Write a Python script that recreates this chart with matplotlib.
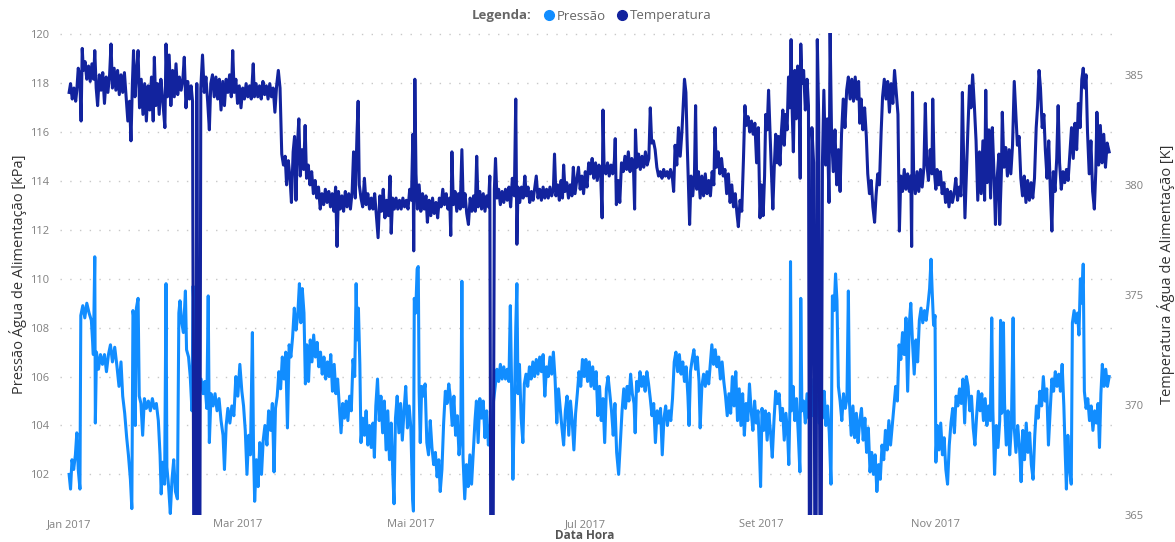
import numpy as np
import pandas as pd
import matplotlib
matplotlib.use("Agg")
import matplotlib.pyplot as plt
from matplotlib.lines import Line2D

# (dia desde 1 jan 2017, pressão em kPa)
pressure_readings = [
    (0, 102.0), (0.5, 101.4), (1, 102.6), (1.6, 102.2), (2.2, 102.8), (2.7, 103.7), (3.2, 102.2), (3.8, 101.4),
    (4.1, 108.5), (4.8, 108.9), (5.5, 108.4), (6.2, 109.0), (7, 108.6), (7.8, 108.3), (8.5, 106.9), (9.0, 110.9),
    (9.2, 104.1), (9.6, 107.0), (10.3, 106.3), (11, 106.9), (11.7, 106.5), (12.4, 106.9), (13.1, 106.2), (13.8, 106.9),
    (14.5, 107.3), (15.2, 106.6), (16, 107.2), (16.8, 106.4), (17.5, 105.6), (18.2, 106.6), (18.8, 105.2), (19.5, 104.5),
    (20.2, 103.5), (20.8, 102.8), (21.5, 101.8), (22.0, 100.6), (22.4, 108.7), (22.9, 108.2), (23.2, 104.0), (23.6, 108.8),
    (24.2, 109.2), (24.6, 105.2), (25.2, 104.9), (25.8, 103.6), (26.4, 105.1), (27.1, 104.7), (27.8, 105.0), (28.5, 104.6),
    (29.2, 105.1), (29.9, 104.7), (30.6, 104.9), (31.3, 104.2), (31.9, 102.8), (32.3, 101.2), (32.8, 102.5), (33.5, 101.6),
    (34.0, 109.8), (34.3, 102.3), (34.9, 101.5), (35.5, 100.4), (36.1, 101.8), (36.7, 102.6), (37.3, 101.3), (38.0, 101.0),
    (38.5, 108.6), (38.9, 109.1), (39.5, 108.2), (40.1, 107.8), (40.8, 109.5), (41.2, 107.1), (41.9, 106.8), (42.5, 106.0),
    (43.1, 104.6), (43.5, 109.7), (44.2, 107.5), (44.9, 106.2), (45.6, 105.5), (46.3, 105.9), (47.0, 105.3), (47.6, 105.8),
    (48.3, 104.7), (48.8, 109.3), (49.2, 103.3), (49.8, 105.3), (50.5, 104.8), (51.2, 105.3), (51.9, 104.6), (52.6, 105.1),
    (53.3, 104.2), (54.0, 103.6), (54.5, 102.2), (55.1, 104.0), (55.7, 104.7), (56.4, 104.1), (57.1, 104.8), (57.8, 104.4),
    (58.5, 106.0), (59.2, 105.2), (59.9, 106.5), (60.6, 105.4), (61.2, 104.8), (61.8, 103.8), (62.4, 102.0), (63.0, 103.6),
    (63.6, 102.8), (64.3, 107.8), (64.7, 103.0), (65.1, 100.9), (65.7, 102.6), (66.3, 101.5), (66.9, 103.3), (67.5, 102.0),
    (68.1, 103.4), (68.7, 104.0), (69.4, 103.2), (70.0, 104.6), (70.7, 103.8), (71.3, 104.9), (71.9, 102.1), (72.4, 104.7),
    (73.0, 105.2), (73.6, 106.2), (74.2, 105.5), (74.8, 106.8), (75.4, 105.9), (76.0, 107.0), (76.6, 103.9), (77.2, 107.3),
    (77.8, 106.8), (78.4, 107.6), (79.0, 108.8), (79.6, 107.9), (80.2, 108.5), (80.8, 109.8), (81.3, 108.2), (81.8, 109.6),
    (82.4, 108.6), (82.9, 105.7), (83.4, 107.3), (84.0, 105.8), (84.6, 107.5), (85.2, 106.6), (85.8, 107.7), (86.4, 106.8),
    (87.0, 107.4), (87.6, 106.4), (88.2, 107.0), (88.8, 106.1), (89.4, 106.8), (90.0, 105.9), (90.6, 106.6), (91.2, 106.0),
    (91.8, 106.9), (92.4, 105.4), (93.0, 106.5), (93.6, 105.3), (94.2, 105.9), (94.8, 104.8), (95.4, 103.7), (96.0, 104.9),
    (96.6, 104.3), (97.2, 105.0), (97.8, 104.2), (98.4, 105.2), (99.0, 104.6), (99.6, 106.7), (100.2, 106.0), (100.7, 109.8),
    (101.1, 107.5), (101.5, 108.8), (102.0, 106.5), (102.4, 103.3), (103.0, 104.3), (103.6, 103.6), (104.2, 104.6), (104.8, 103.2),
    (105.4, 104.0), (106.0, 103.1), (106.6, 104.1), (107.1, 102.7), (107.6, 104.8), (108.2, 105.9), (108.8, 104.2), (109.4, 105.2),
    (110.0, 103.7), (110.6, 105.0), (111.2, 103.0), (111.8, 104.6), (112.4, 102.6), (113.0, 104.1), (113.6, 101.9), (114.0, 100.8),
    (114.5, 104.3), (115.1, 105.2), (115.7, 103.7), (116.3, 104.9), (116.9, 103.4), (117.5, 104.6), (118.1, 105.6), (118.7, 103.9),
    (119.3, 104.8), (119.9, 103.9), (120.5, 101.0), (120.8, 100.5), (121.1, 109.2), (121.6, 108.6), (122.1, 110.4), (122.5, 110.5),
    (122.8, 105.4), (123.2, 103.3), (123.7, 105.6), (124.3, 105.2), (124.9, 105.7), (125.5, 103.3), (126.1, 102.8), (126.7, 104.2),
    (127.3, 103.1), (127.9, 102.4), (128.5, 102.9), (129.1, 101.9), (129.7, 102.6), (130.2, 101.3), (130.8, 102.2), (131.4, 104.1),
    (132.0, 105.4), (132.6, 104.9), (133.2, 105.7), (133.8, 105.1), (134.4, 104.0), (135.0, 105.2), (135.6, 103.6), (136.2, 104.4),
    (136.8, 102.8), (137.4, 103.6), (137.8, 109.9), (138.2, 102.7), (138.8, 101.0), (139.4, 102.4), (140.0, 101.5), (140.6, 102.8),
    (141.2, 101.6), (141.8, 102.9), (142.4, 104.2), (142.9, 105.0), (143.5, 103.3), (144.1, 105.1), (144.7, 104.3), (145.3, 105.0),
    (145.9, 103.5), (146.5, 104.6), (147.1, 103.2), (147.7, 104.0), (148.3, 103.5), (148.9, 105.0), (149.5, 105.6), (150.1, 106.3),
    (150.7, 105.8), (151.3, 106.5), (151.9, 105.9), (152.5, 106.4), (153.1, 105.9), (153.7, 106.3), (154.3, 105.8), (154.8, 108.9),
    (155.2, 106.0), (155.7, 101.8), (156.2, 104.6), (156.7, 108.0), (157.1, 109.8), (157.5, 105.3), (158.0, 106.5), (158.6, 104.3),
    (159.2, 103.3), (159.7, 105.7), (160.3, 106.1), (160.9, 105.6), (161.5, 106.4), (162.1, 105.9), (162.7, 106.6), (163.3, 106.0),
    (163.9, 106.7), (164.5, 106.1), (165.1, 106.8), (165.7, 106.2), (166.3, 106.9), (166.9, 105.2), (167.5, 106.4), (168.1, 106.0),
    (168.7, 106.8), (169.3, 106.1), (169.9, 107.0), (170.5, 105.9), (171.1, 104.1), (171.7, 105.5), (172.3, 104.7), (172.9, 103.9),
    (173.5, 103.2), (174.1, 104.6), (174.7, 105.2), (175.3, 103.6), (175.9, 105.0), (176.5, 104.2), (177.1, 103.0), (177.7, 104.5),
    (178.3, 105.3), (178.9, 106.2), (179.5, 105.6), (180.1, 106.7), (180.7, 106.0), (181.3, 106.7), (181.9, 105.8), (182.5, 106.6),
    (183.1, 105.6), (183.7, 106.4), (184.3, 105.5), (184.9, 106.2), (185.5, 104.4), (186.1, 105.6), (186.7, 104.2), (187.3, 105.1),
    (187.9, 103.3), (188.5, 105.5), (189.1, 106.0), (189.7, 105.3), (190.3, 104.6), (190.9, 103.6), (191.5, 104.9), (192.1, 102.9),
    (192.8, 102.0), (193.4, 103.3), (194.0, 104.6), (194.6, 105.5), (195.2, 104.7), (195.8, 105.6), (196.4, 105.0), (197.0, 106.1),
    (197.6, 105.3), (198.2, 104.9), (198.6, 103.7), (199.1, 105.8), (199.7, 105.4), (200.3, 106.2), (200.9, 105.6), (201.5, 106.0),
    (202.1, 105.4), (202.7, 106.2), (203.3, 105.7), (203.9, 105.1), (204.5, 104.4), (205.1, 104.9), (205.7, 103.3), (206.3, 104.6),
    (206.9, 104.1), (207.5, 104.7), (208.1, 102.8), (208.7, 104.3), (209.3, 104.8), (209.9, 104.0), (210.5, 104.6), (211.1, 104.2),
    (211.7, 105.1), (212.3, 106.6), (212.9, 107.0), (213.5, 106.2), (214.1, 106.9), (214.7, 106.1), (215.3, 106.6), (215.9, 105.8),
    (216.5, 106.4), (217.1, 105.2), (217.5, 104.0), (218.0, 106.2), (218.6, 106.7), (219.2, 107.1), (219.8, 106.3), (220.4, 106.8),
    (221.0, 105.8), (221.4, 103.9), (222.0, 105.6), (222.6, 106.1), (223.2, 105.6), (223.8, 106.2), (224.4, 105.7), (225.0, 106.6),
    (225.5, 107.3), (226.1, 106.5), (226.7, 107.1), (227.3, 106.4), (227.9, 106.8), (228.5, 105.9), (229.1, 106.6), (229.7, 105.8),
    (230.3, 105.2), (230.9, 104.4), (231.5, 105.3), (232.1, 104.5), (232.7, 106.0), (233.3, 104.8), (233.9, 106.2), (234.5, 104.2),
    (235.1, 105.5), (235.7, 104.0), (236.3, 105.3), (236.9, 103.6), (237.5, 104.9), (238.1, 104.2), (238.7, 105.7), (239.3, 104.6),
    (239.9, 103.8), (240.5, 105.0), (241.1, 104.1), (241.7, 104.6), (242.2, 103.0), (242.6, 101.5), (243.1, 104.7), (243.7, 103.8),
    (244.3, 104.6), (244.9, 103.4), (245.5, 104.5), (246.1, 103.7), (246.7, 102.7), (247.3, 104.2), (247.9, 105.4), (248.5, 104.9),
    (249.1, 105.3), (249.7, 104.2), (250.3, 104.7), (250.9, 103.4), (251.5, 104.5), (252.1, 103.6), (252.5, 102.4), (252.9, 104.8),
    (253.1, 110.7), (253.4, 104.6), (254.0, 105.6), (254.6, 104.2), (255.2, 105.1), (255.8, 103.7), (256.4, 102.1), (256.7, 109.2),
    (257.1, 104.6), (257.7, 105.0), (258.3, 104.1), (258.9, 105.3), (259.5, 104.3), (260.1, 105.0), (260.7, 104.4), (261.3, 105.9),
    (261.9, 104.7), (262.5, 105.2), (263.1, 104.1), (263.7, 105.0), (264.3, 104.3), (264.9, 105.4), (265.5, 104.0), (266.1, 104.8),
    (266.7, 103.7), (267.3, 101.6), (267.8, 109.3), (268.4, 108.7), (268.9, 110.2), (269.4, 109.1), (269.9, 105.6), (270.5, 105.0),
    (271.1, 104.2), (271.7, 105.3), (272.3, 104.7), (272.9, 105.1), (273.4, 109.5), (273.8, 104.9), (274.4, 103.6), (275.0, 104.8),
    (275.6, 103.5), (276.2, 104.5), (276.8, 103.3), (277.4, 104.2), (278.0, 104.7), (278.6, 103.4), (279.2, 104.3), (279.8, 102.9),
    (280.4, 103.9), (281.0, 102.1), (281.6, 102.9), (282.2, 102.0), (282.8, 102.8), (283.4, 101.3), (284.0, 102.4), (284.6, 101.8),
    (285.2, 103.2), (285.8, 102.6), (286.4, 103.8), (287.0, 103.0), (287.6, 104.2), (288.2, 103.2), (288.8, 104.0), (289.4, 104.8),
    (290.0, 105.6), (290.6, 105.0), (291.2, 107.3), (291.8, 106.7), (292.4, 107.8), (293.0, 106.9), (293.6, 108.4), (294.2, 105.4),
    (294.8, 108.2), (295.3, 109.0), (295.9, 107.4), (296.5, 106.1), (297.1, 107.5), (297.7, 106.6), (298.3, 108.3), (298.9, 108.8),
    (299.5, 108.2), (300.1, 108.7), (300.7, 108.3), (301.3, 108.9), (301.9, 109.6), (302.4, 110.8), (302.8, 109.5), (303.3, 108.1),
    (303.8, 108.5), (304.1, 102.5), (304.6, 104.0), (305.2, 103.0), (305.8, 104.1), (306.4, 102.8), (307.0, 103.5), (307.6, 102.2),
    (308.2, 101.6), (308.8, 103.2), (309.4, 104.1), (310.0, 104.7), (310.6, 103.7), (311.2, 105.2), (311.8, 104.8), (312.4, 105.5),
    (313.0, 104.9), (313.6, 105.9), (314.2, 104.1), (314.8, 106.0), (315.4, 105.6), (316.0, 104.6), (316.6, 105.2), (317.2, 103.9),
    (317.8, 103.2), (318.4, 104.4), (319.0, 105.4), (319.6, 104.6), (320.2, 105.3), (320.8, 104.2), (321.4, 105.1), (322.0, 104.0),
    (322.6, 104.8), (323.2, 104.2), (323.7, 108.4), (324.1, 104.6), (324.7, 102.0), (325.3, 104.0), (325.9, 103.1), (326.5, 104.2),
    (326.8, 108.3), (327.2, 104.5), (327.8, 108.2), (328.2, 104.9), (328.8, 103.2), (329.4, 104.6), (330.0, 102.8), (330.6, 104.0),
    (331.2, 108.4), (331.6, 103.9), (332.2, 102.9), (332.8, 104.0), (333.4, 103.2), (334.0, 101.7), (334.6, 103.8), (335.2, 102.6),
    (335.8, 104.1), (336.4, 102.9), (337.0, 103.7), (337.6, 102.4), (338.2, 101.8), (338.8, 103.6), (339.4, 104.8), (340.0, 104.3),
    (340.6, 105.4), (341.2, 104.8), (341.8, 106.0), (342.4, 105.0), (343.0, 105.5), (343.6, 103.2), (344.2, 104.6), (344.8, 105.9),
    (345.4, 105.4), (346.0, 106.2), (346.6, 105.6), (347.2, 106.1), (347.8, 105.4), (348.4, 106.5), (349.0, 104.8), (349.5, 102.8),
    (349.9, 101.4), (350.4, 103.6), (351.0, 102.2), (351.6, 101.6), (352.0, 108.2), (352.6, 108.7), (353.2, 108.2), (353.8, 108.6),
    (354.3, 107.7), (354.8, 110.0), (355.3, 109.0), (355.8, 110.6), (356.2, 105.4), (356.8, 104.7), (357.4, 105.1), (358.0, 104.2),
    (358.6, 104.8), (359.2, 103.8), (359.8, 104.6), (360.4, 104.1), (361.0, 104.9), (361.5, 103.1), (362.0, 105.3), (362.5, 106.5),
    (363.1, 105.6), (363.7, 106.3), (364.3, 105.6), (364.9, 106.0),
]

# (dia desde 1 jan 2017, temperatura em K)
temperature_readings = [
    (0, 384.2), (0.5, 384.6), (1.1, 383.9), (1.7, 384.4), (2.3, 383.8), (2.7, 384.3), (3.2, 385.3), (3.7, 385.0),
    (4.2, 382.9), (4.6, 386.2), (5.0, 385.2), (5.6, 385.6), (6.2, 384.8), (6.8, 385.4), (7.4, 384.7), (8.0, 385.5),
    (8.6, 384.8), (9.0, 386.1), (9.5, 384.4), (10.0, 383.6), (10.6, 385.0), (11.2, 384.3), (11.8, 385.1), (12.4, 383.7),
    (13.0, 384.9), (13.6, 384.2), (14.2, 385.0), (14.7, 386.4), (15.2, 384.4), (15.8, 385.3), (16.4, 384.3), (17.0, 385.2),
    (17.6, 384.1), (18.2, 385.0), (18.8, 384.2), (19.4, 385.1), (20.0, 384.0), (20.6, 382.9), (21.2, 383.8), (21.7, 382.0),
    (22.2, 384.6), (22.6, 386.1), (23.1, 384.0), (23.7, 385.2), (24.2, 386.1), (24.7, 383.5), (25.3, 384.8), (25.9, 383.2),
    (26.5, 384.6), (27.1, 382.9), (27.7, 384.5), (28.3, 383.4), (28.9, 384.9), (29.5, 382.9), (29.9, 385.8), (30.4, 383.6),
    (31.0, 384.6), (31.6, 383.2), (32.2, 384.8), (32.8, 383.9), (33.6, 382.6), (34.0, 386.4), (34.5, 384.0), (35.1, 385.9),
    (35.7, 383.6), (36.3, 385.2), (36.9, 384.0), (37.5, 385.5), (38.1, 384.1), (38.7, 384.9), (39.3, 384.3), (39.9, 384.8),
    (40.4, 385.8), (41.0, 383.5), (41.6, 384.7), (42.2, 383.9), (42.8, 384.5), (43.3, 383.8), (43.7, 365.0), (44.5, 365.0),
    (44.8, 384.6), (45.3, 365.0), (45.9, 365.0), (46.2, 384.4), (46.8, 385.9), (47.4, 384.2), (48.0, 384.9), (48.6, 383.8),
    (49.2, 382.5), (49.7, 384.6), (50.3, 385.0), (50.9, 384.0), (51.5, 384.9), (52.1, 383.9), (52.7, 384.8), (53.3, 383.4),
    (53.9, 384.7), (54.5, 383.6), (55.1, 384.8), (55.7, 384.2), (56.3, 385.0), (56.9, 384.0), (57.4, 386.1), (57.9, 384.2),
    (58.5, 384.8), (59.1, 383.7), (59.7, 384.5), (60.3, 383.5), (60.9, 384.4), (61.5, 383.9), (62.1, 384.6), (62.7, 384.0),
    (63.3, 384.5), (63.9, 383.9), (64.6, 385.5), (65.0, 384.0), (65.6, 384.6), (66.2, 384.0), (66.8, 384.5), (67.4, 383.9),
    (68.0, 384.7), (68.6, 384.1), (69.2, 384.5), (69.8, 383.9), (70.4, 384.6), (71.0, 384.0), (71.6, 384.4), (72.2, 383.3),
    (72.8, 384.5), (73.4, 385.2), (74.0, 384.4), (74.6, 381.4), (75.2, 380.9), (75.8, 381.3), (76.3, 380.0), (76.9, 381.1),
    (77.5, 380.3), (78.0, 379.2), (78.6, 381.5), (79.1, 382.2), (79.6, 379.3), (80.1, 381.8), (80.6, 383.0), (81.1, 380.4),
    (81.7, 381.6), (82.3, 380.7), (82.8, 382.7), (83.3, 380.3), (83.9, 380.9), (84.5, 380.0), (85.1, 380.6), (85.7, 379.6),
    (86.3, 380.2), (86.9, 379.4), (87.5, 379.9), (88.1, 378.9), (88.7, 379.6), (89.3, 379.1), (89.9, 379.8), (90.5, 379.2),
    (91.1, 379.7), (91.7, 379.0), (92.3, 379.6), (92.9, 378.8), (93.5, 379.9), (94.0, 377.2), (94.5, 379.7), (95.1, 378.9),
    (95.7, 379.5), (96.3, 378.8), (96.9, 379.7), (97.5, 379.0), (98.1, 379.6), (98.7, 378.9), (99.3, 379.7), (99.8, 381.5),
    (100.4, 379.4), (101.0, 382.3), (101.4, 383.8), (101.8, 380.0), (102.4, 379.4), (103.0, 379.0), (103.6, 380.3), (104.2, 379.1),
    (104.8, 379.6), (105.4, 378.9), (106.0, 379.4), (106.6, 378.9), (107.2, 379.6), (107.8, 378.6), (108.4, 377.6), (109.0, 379.5),
    (109.6, 378.8), (110.2, 379.8), (110.8, 378.5), (111.4, 379.3), (112.0, 378.6), (112.6, 380.4), (113.0, 377.8), (113.5, 379.4),
    (114.1, 378.9), (114.7, 379.4), (115.3, 378.9), (115.9, 379.3), (116.5, 378.9), (117.1, 379.4), (117.7, 379.0), (118.3, 379.3),
    (118.9, 378.9), (119.5, 379.8), (120.1, 379.3), (120.6, 382.3), (120.9, 377.0), (121.3, 384.8), (121.7, 380.5), (122.2, 378.9),
    (122.8, 380.0), (123.4, 378.8), (124.0, 379.6), (124.6, 378.9), (125.2, 379.5), (125.7, 378.3), (126.3, 379.3), (126.9, 378.6),
    (127.5, 379.4), (128.1, 378.7), (128.7, 379.2), (129.3, 378.5), (129.9, 379.4), (130.5, 379.0), (131.1, 379.8), (131.7, 379.1),
    (132.3, 379.6), (132.9, 378.9), (133.5, 379.4), (133.9, 377.7), (134.3, 381.5), (134.8, 379.1), (135.4, 379.7), (136.0, 378.8),
    (136.6, 379.6), (137.2, 378.9), (137.8, 381.6), (138.3, 379.0), (138.9, 379.6), (139.5, 378.7), (140.1, 378.2), (140.7, 379.4),
    (141.3, 378.8), (141.9, 379.5), (142.5, 378.8), (143.0, 381.3), (143.5, 379.0), (144.1, 379.7), (144.7, 378.9), (145.3, 379.6),
    (145.9, 378.8), (146.5, 379.5), (147.1, 379.0), (147.6, 380.4), (147.9, 365.0), (148.8, 365.0), (149.2, 379.8), (149.6, 381.2),
    (150.1, 379.4), (150.7, 379.8), (151.3, 379.1), (151.9, 379.7), (152.5, 379.2), (153.1, 379.8), (153.7, 379.3), (154.3, 379.9),
    (154.9, 379.0), (155.5, 380.3), (156.2, 379.5), (156.7, 383.9), (157.1, 377.3), (157.5, 379.9), (158.1, 379.2), (158.7, 379.9),
    (159.3, 379.4), (159.9, 380.4), (160.4, 379.5), (161.0, 379.9), (161.6, 379.2), (162.2, 379.7), (162.8, 379.3), (163.4, 379.9),
    (163.9, 380.4), (164.5, 379.4), (165.1, 379.8), (165.7, 379.3), (166.3, 379.9), (166.9, 379.4), (167.5, 379.8), (168.1, 379.4),
    (168.7, 379.9), (169.3, 379.5), (169.9, 379.8), (170.3, 381.4), (170.8, 379.5), (171.4, 380.0), (172.0, 379.3), (172.6, 380.2),
    (173.1, 379.4), (173.5, 380.9), (174.0, 379.7), (174.6, 380.1), (175.2, 379.4), (175.8, 380.0), (176.4, 379.5), (176.9, 380.8),
    (177.5, 379.6), (178.1, 380.2), (178.7, 380.8), (179.3, 379.8), (179.9, 380.4), (180.5, 379.6), (181.1, 380.6), (181.7, 379.9),
    (182.3, 381.0), (182.9, 380.5), (183.5, 381.2), (184.1, 380.3), (184.7, 381.0), (185.3, 380.2), (185.9, 380.9), (186.5, 380.4),
    (187.0, 378.5), (187.3, 383.4), (187.7, 380.8), (188.3, 380.5), (188.9, 381.0), (189.5, 380.4), (190.1, 380.9), (190.7, 380.5),
    (191.3, 381.1), (191.6, 382.1), (192.0, 379.1), (192.6, 380.2), (193.2, 379.2), (193.8, 381.0), (194.4, 380.6), (195.0, 381.3),
    (195.6, 380.7), (196.2, 381.5), (196.8, 380.6), (197.4, 381.2), (198.0, 380.8), (198.4, 378.9), (198.7, 382.5), (199.2, 380.8),
    (199.8, 381.4), (200.4, 380.7), (201.0, 381.3), (201.6, 380.8), (202.2, 381.5), (202.8, 380.9), (203.4, 381.2), (203.9, 383.5),
    (204.4, 381.9), (205.0, 382.0), (205.6, 381.6), (206.2, 380.8), (206.8, 380.4), (207.4, 380.6), (208.0, 380.3), (208.6, 380.7),
    (209.2, 380.4), (209.8, 380.6), (210.4, 380.3), (211.0, 380.7), (211.6, 380.4), (212.1, 379.7), (212.6, 381.8), (213.2, 380.9),
    (213.8, 382.6), (214.4, 381.3), (215.0, 382.4), (215.5, 383.7), (215.9, 384.8), (216.4, 384.2), (216.8, 382.1), (217.3, 379.9),
    (217.7, 378.2), (218.2, 380.4), (218.8, 379.5), (219.4, 380.5), (219.8, 383.6), (220.2, 379.8), (220.8, 380.6), (221.4, 379.4),
    (222.0, 380.4), (222.6, 379.5), (223.2, 380.5), (223.8, 379.6), (224.4, 380.2), (225.0, 379.5), (225.6, 380.6), (226.2, 380.0),
    (226.6, 382.6), (227.1, 380.8), (227.7, 381.5), (228.3, 380.5), (228.9, 381.2), (229.5, 380.4), (230.1, 380.7), (230.7, 379.6),
    (231.3, 380.5), (231.9, 379.2), (232.5, 380.0), (233.1, 379.0), (233.7, 379.6), (234.3, 378.7), (234.8, 378.1), (235.4, 379.3),
    (236.0, 378.8), (236.6, 381.2), (237.1, 383.6), (237.6, 382.7), (238.2, 383.1), (238.8, 382.4), (239.4, 382.9), (240.0, 382.3),
    (240.6, 382.8), (241.2, 381.0), (241.8, 382.6), (242.4, 378.5), (242.9, 380.0), (243.5, 378.6), (244.0, 380.4), (244.4, 383.2),
    (244.9, 382.5), (245.4, 384.3), (245.9, 382.4), (246.4, 380.6), (246.9, 378.9), (247.4, 380.8), (247.9, 382.3), (248.4, 381.0),
    (248.9, 382.2), (249.4, 380.9), (249.9, 382.4), (250.4, 383.4), (250.9, 381.8), (251.4, 383.2), (251.9, 382.5), (252.4, 384.9),
    (252.9, 383.5), (253.3, 386.6), (253.7, 383.3), (254.1, 381.5), (254.6, 385.2), (255.1, 383.0), (255.6, 385.4), (256.1, 384.1),
    (256.5, 380.3), (256.7, 386.4), (257.1, 384.6), (257.7, 385.2), (258.3, 383.4), (258.9, 384.8), (259.4, 383.6), (259.7, 365.0),
    (260.2, 365.0), (260.6, 382.6), (261.2, 381.0), (261.6, 365.0), (262.1, 365.0), (262.5, 386.6), (263.0, 383.0), (263.4, 365.0),
    (263.9, 365.0), (264.3, 381.0), (264.8, 384.3), (265.4, 380.9), (266.0, 383.0), (266.6, 379.2), (267.0, 386.9), (267.5, 382.3),
    (268.1, 380.6), (268.7, 382.5), (269.3, 380.0), (269.9, 381.6), (270.5, 379.7), (271.0, 382.3), (271.6, 383.9), (272.2, 382.6),
    (272.8, 384.3), (273.4, 384.9), (274.0, 383.9), (274.6, 384.8), (275.2, 383.8), (275.8, 384.9), (276.4, 383.9), (277.0, 384.7),
    (277.4, 382.8), (277.9, 383.9), (278.5, 382.5), (279.1, 383.5), (279.7, 382.2), (280.2, 380.5), (280.8, 379.6), (281.4, 380.2),
    (282.0, 379.0), (282.6, 378.3), (283.1, 379.5), (283.7, 380.5), (284.3, 380.0), (284.9, 382.4), (285.4, 384.0), (286.0, 384.8),
    (286.6, 383.9), (287.2, 384.7), (287.8, 383.3), (288.4, 384.6), (289.0, 383.7), (289.6, 385.2), (290.2, 384.2), (290.8, 383.2),
    (291.3, 377.9), (291.8, 380.4), (292.4, 379.7), (293.0, 380.7), (293.6, 379.8), (294.2, 380.5), (294.8, 379.7), (295.3, 380.4),
    (295.6, 377.2), (295.9, 384.2), (296.3, 380.5), (296.9, 379.6), (297.5, 380.6), (298.1, 379.7), (298.7, 380.7), (299.3, 379.9),
    (299.9, 380.8), (300.4, 383.7), (300.9, 381.0), (301.5, 380.2), (302.1, 381.6), (302.7, 380.5), (303.0, 383.9), (303.5, 380.7),
    (304.1, 379.8), (304.5, 380.7), (305.1, 380.0), (305.7, 380.6), (306.3, 379.6), (306.9, 380.1), (307.5, 379.2), (308.1, 379.8),
    (308.7, 379.0), (309.3, 379.7), (309.9, 379.2), (310.5, 379.6), (311.1, 380.3), (311.7, 379.3), (312.3, 379.9), (312.9, 379.5),
    (313.4, 384.2), (313.8, 381.5), (314.3, 378.5), (314.8, 380.5), (315.3, 382.4), (315.9, 384.5), (316.4, 383.5), (317.0, 385.0),
    (317.6, 383.6), (318.2, 382.0), (318.8, 379.3), (319.4, 381.5), (320.0, 379.6), (320.6, 382.0), (321.2, 379.3), (321.6, 384.3),
    (322.1, 380.1), (322.7, 382.5), (323.3, 379.4), (323.9, 382.6), (324.5, 380.5), (325.0, 378.2), (325.6, 380.3), (326.2, 381.4),
    (326.5, 378.2), (327.1, 380.6), (327.4, 383.3), (328.0, 380.8), (328.6, 381.7), (329.2, 380.4), (329.8, 381.6), (330.4, 380.5),
    (331.0, 381.8), (331.6, 384.7), (332.1, 383.4), (332.7, 381.8), (333.3, 382.2), (333.9, 380.3), (334.5, 379.5), (335.1, 380.4),
    (335.7, 379.2), (336.3, 380.2), (336.9, 379.3), (337.5, 380.1), (338.1, 379.4), (338.7, 380.3), (339.3, 382.6), (339.8, 383.6),
    (340.3, 385.2), (340.8, 384.4), (341.4, 382.6), (342.0, 383.2), (342.5, 381.6), (343.1, 380.3), (343.7, 382.0), (344.3, 379.6),
    (344.8, 377.9), (345.3, 380.6), (345.9, 379.7), (346.5, 381.2), (347.0, 383.6), (347.5, 381.0), (348.1, 379.8), (348.7, 380.6),
    (349.3, 380.1), (349.9, 380.7), (350.5, 380.2), (351.1, 381.4), (351.7, 382.6), (352.3, 381.2), (352.9, 382.8), (353.5, 381.6),
    (354.1, 383.7), (354.7, 382.6), (355.3, 384.8), (355.8, 385.3), (356.3, 384.4), (356.8, 385.0), (357.3, 382.4), (357.9, 380.5),
    (358.5, 382.0), (359.1, 379.7), (359.7, 378.9), (360.2, 380.6), (360.6, 383.3), (361.2, 380.9), (361.8, 382.7), (362.4, 381.0),
    (363.0, 382.3), (363.6, 380.8), (364.2, 381.9), (364.9, 381.5),
]

month_ticks = ["2017-01-01", "2017-03-01", "2017-05-01", "2017-07-01", "2017-09-01", "2017-11-01"]
month_labels = ["Jan 2017", "Mar 2017", "Mai 2017", "Jul 2017", "Set 2017", "Nov 2017"]
pressure_ticks = [102, 104, 106, 108, 110, 112, 114, 116, 118, 120]
temperature_ticks = [365, 370, 375, 380, 385]

start = pd.Timestamp("2017-01-01")


def to_dates(days):
    return start + pd.to_timedelta(np.asarray(days, dtype=float), unit="D")


p_days, p_vals = zip(*pressure_readings)
t_days, t_vals = zip(*temperature_readings)

plt.rcParams["font.family"] = ["Open Sans", "DejaVu Sans"]

fig = plt.figure(figsize=(11.75, 5.42), dpi=100)
ax = fig.add_axes([60 / 1175, 1 - 515 / 542, 1058 / 1175, 482 / 542])
ax2 = ax.twinx()

ax.plot(to_dates(p_days), p_vals, color="#118DFF", lw=2.2, solid_joinstyle="round")
ax2.plot(to_dates(t_days), t_vals, color="#12239E", lw=2.2, solid_joinstyle="round")

ax.set_xlim(start - pd.Timedelta(days=3.2), start + pd.Timedelta(days=368))
ax.set_ylim(100.34, 120.05)
ax2.set_ylim(365.0, 386.9)

ax.set_xticks(pd.to_datetime(month_ticks))
ax.set_xticklabels(month_labels)
ax.set_yticks(pressure_ticks)
ax2.set_yticks(temperature_ticks)

ax.grid(axis="y", color="#c8c8c8", linestyle=(0, (1, 6)), lw=1)
ax.set_axisbelow(True)

for a in (ax, ax2):
    for s in a.spines.values():
        s.set_visible(False)
    a.tick_params(length=0, labelcolor="#808080", labelsize=8)
ax.tick_params(axis="x", pad=3)
ax.tick_params(axis="y", pad=8)
ax2.tick_params(axis="y", pad=5)

ax.set_xlabel("Data Hora", fontsize=8.5, fontweight="bold", color="#555555")
ax.xaxis.set_label_coords(0.496, -0.030)
ax.set_ylabel("Pressão Água de Alimentação [kPa]", fontsize=10.5, color="#333333")
ax.yaxis.set_label_coords(-0.031, 0.5)
ax2.set_ylabel("Temperatura Água de Alimentação [K]", fontsize=10.5, color="#333333")
ax2.yaxis.set_label_coords(1.037, 0.5)

# legenda no topo
fig.text(472 / 1175, 1 - 16 / 542, "Legenda:", fontsize=9.5, fontweight="bold",
         color="#666666", ha="left", va="center")
handles = [
    Line2D([], [], marker="o", ls="none", color="#118DFF", markersize=7),
    Line2D([], [], marker="o", ls="none", color="#12239E", markersize=7),
]
fig.legend(handles, ["Pressão", "Temperatura"], loc="center left",
           bbox_to_anchor=(541 / 1175, 1 - 16 / 542), ncol=2, frameon=False,
           fontsize=9.5, labelcolor="#666666", handletextpad=0.0,
           columnspacing=0.6, handlelength=1.2, borderpad=0, borderaxespad=0)

fig.savefig("out.png", dpi=100)
